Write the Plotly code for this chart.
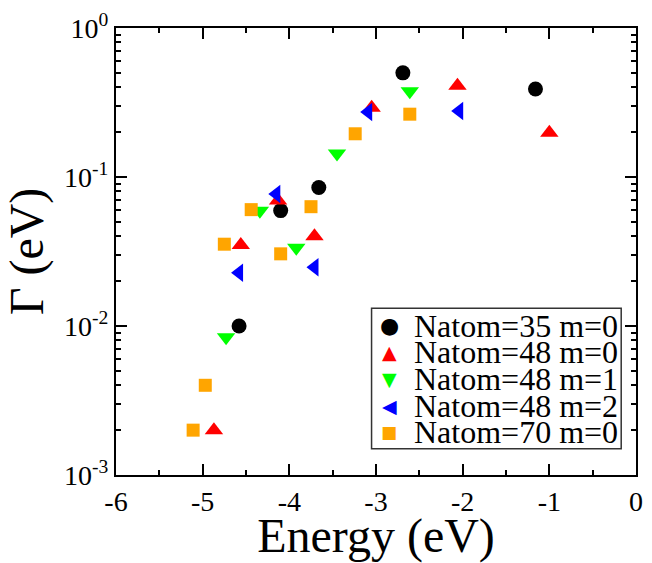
import plotly.graph_objects as go

# ---- data ----
n35m0_x = [-4.58, -4.10, -3.66, -2.69, -1.16]
n35m0_y = [0.010, 0.0595, 0.085, 0.50, 0.39]

n48m0_x = [-4.87, -4.56, -4.13, -3.71, -3.05, -2.06, -1.00]
n48m0_y = [0.0020, 0.035, 0.0695, 0.040, 0.292, 0.41, 0.198]

n48m1_x = [-4.73, -4.34, -3.92, -3.45, -2.61]
n48m1_y = [0.0084, 0.0594, 0.0335, 0.144, 0.376]

n48m2_x = [-4.58, -4.15, -3.71, -3.09, -2.04]
n48m2_y = [0.0228, 0.0768, 0.0248, 0.273, 0.277]

n70m0_x = [-5.11, -4.97, -4.75, -4.44, -4.10, -3.75, -3.24, -2.61]
n70m0_y = [0.0020, 0.0040, 0.0354, 0.0604, 0.0305, 0.0632, 0.195, 0.264]

series_names = ["Natom=35 m=0", "Natom=48 m=0", "Natom=48 m=1", "Natom=48 m=2", "Natom=70 m=0"]
series_colors = ["#000000", "#ff0000", "#00ff00", "#0000ff", "#ffa500"]
series_symbols = ["circle", "triangle-up", "triangle-down", "triangle-left", "square"]
series_sizes = [15, 16, 16, 16, 13]
legend_glyphs = ["\u25CF", "\u25B2", "\u25BC", "\u25C0", "\u25A0"]

x_tickvals = [-6, -5, -4, -3, -2, -1, 0]
x_ticktext = ["-6", "-5", "-4", "-3", "-2", "-1", "0"]
y_tickvals = [1e-3, 1e-2, 1e-1, 1e0]
y_ticktext = ["10<sup>-3</sup>", "10<sup>-2</sup>", "10<sup>-1</sup>", "10<sup>0</sup>"]

xs = [n35m0_x, n48m0_x, n48m1_x, n48m2_x, n70m0_x]
ys = [n35m0_y, n48m0_y, n48m1_y, n48m2_y, n70m0_y]

W, H = 652, 563
PL, PR, PT, PB = 116, 643, 25, 486
FONT = "Liberation Serif"


def pxx(px):
    return (px - PL) / (PR - PL)


def pxy(py):
    return (PB - py) / (PB - PT)


fig = go.Figure()
for name, x, y, c, s, sz in zip(series_names, xs, ys, series_colors, series_symbols, series_sizes):
    fig.add_trace(go.Scatter(
        x=x, y=y, mode="markers", name=name, showlegend=False,
        marker=dict(symbol=s, size=sz, color=c, line=dict(width=0)),
    ))

y_minor = [m * 10 ** e for e in (-3, -2, -1) for m in range(2, 10)]

axis_common = dict(
    showgrid=False, zeroline=False, showline=True, linecolor="black", linewidth=2,
    mirror="ticks", ticks="inside", ticklen=11, tickwidth=2, tickcolor="black",
    tickfont=dict(family=FONT, size=28, color="black"),
)

fig.update_xaxes(
    range=[-6, 0], tickmode="array", tickvals=x_tickvals, ticktext=x_ticktext,
    minor=dict(dtick=0.5, ticks="inside", ticklen=5, tickwidth=2, tickcolor="black"),
    title=dict(text="Energy (eV)", font=dict(family=FONT, size=48, color="black"), standoff=4),
    **axis_common,
)
fig.update_yaxes(
    type="log", range=[-3, 0], tickmode="array", tickvals=y_tickvals, ticktext=y_ticktext,
    minor=dict(tickvals=y_minor, ticks="inside", ticklen=5, tickwidth=2, tickcolor="black"),
    title=dict(text="\u0393 (eV)", font=dict(family=FONT, size=48, color="black"), standoff=8),
    **axis_common,
)

# hand-built legend box (matching the reference's tight layout)
shapes = [dict(type="rect", xref="paper", yref="paper",
               x0=pxx(375), x1=pxx(628), y0=pxy(459), y1=pxy(314),
               line=dict(color="#333333", width=1.5), fillcolor="white", layer="above")]
annotations = []
row_y = [332, 359.5, 387, 414.5, 442]
glyph_sizes = [22, 19, 19, 19, 17]
for name, c, g, gs, ry in zip(series_names, series_colors, legend_glyphs, glyph_sizes, row_y):
    annotations.append(dict(
        xref="paper", yref="paper", x=pxx(393), y=pxy(ry), xanchor="center", yanchor="middle",
        text=g, showarrow=False, font=dict(family="DejaVu Sans", size=gs, color=c)))
    annotations.append(dict(
        xref="paper", yref="paper", x=pxx(416), y=pxy(ry), xanchor="left", yanchor="middle",
        text=name, showarrow=False, font=dict(family=FONT, size=32, color="black")))

fig.update_layout(
    width=W, height=H,
    margin=dict(l=PL, r=W - PR, t=PT, b=H - PB),
    paper_bgcolor="white", plot_bgcolor="white",
    showlegend=False, shapes=shapes, annotations=annotations,
    font=dict(family=FONT, color="black"),
)

fig.write_html("out.html")
